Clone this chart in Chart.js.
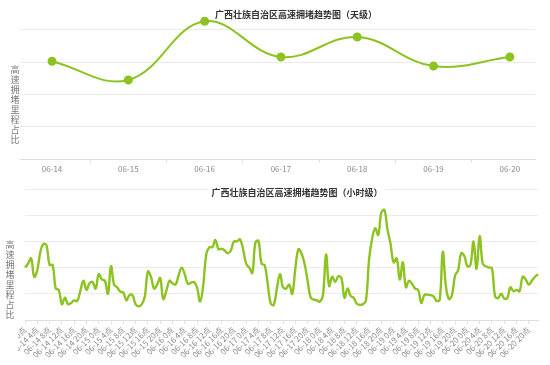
<!DOCTYPE html>
<html>
<head>
<meta charset="utf-8">
<script src="https://cdn.jsdelivr.net/npm/chart.js@4.4.1/dist/chart.umd.min.js"></script>
<style>
  body { margin: 0; background: #fff; }
  canvas { position: absolute; left: 0; }
  #day-chart { top: 0; }
  #hour-chart { top: 182px; }
</style>
</head>
<body>
<canvas id="day-chart" width="550" height="182"></canvas>
<canvas id="hour-chart" width="550" height="183"></canvas>
<script>
const days = ['06-14', '06-15', '06-16', '06-17', '06-18', '06-19', '06-20']
const daily_values = [3.03, 2.45, 4.27, 3.16, 3.78, 2.88, 3.16]

// hourly values, one array per day (0点 .. 23点)
const hours_0614 = [2.0, 2.15, 2.35, 1.65, 1.9, 2.6, 2.9, 2.85, 2.1, 2.1, 1.2, 1.15, 0.6, 0.85, 0.6, 0.65, 0.75, 0.72, 1.1, 1.5, 1.15, 1.4, 1.45, 1.2]
const hours_0615 = [1.75, 1.55, 1.5, 1.0, 2.05, 1.35, 1.25, 1.08, 1.05, 0.75, 0.95, 0.95, 0.6, 0.52, 0.6, 0.9, 1.85, 1.65, 1.2, 1.35, 1.6, 0.8, 1.1, 1.5]
const hours_0616 = [1.4, 1.35, 1.7, 2.0, 1.75, 1.38, 1.42, 1.45, 1.25, 0.7, 1.3, 2.5, 2.78, 2.78, 3.05, 2.7, 2.72, 2.65, 2.55, 2.65, 3.0, 3.0, 3.08, 2.7]
const hours_0617 = [2.15, 2.0, 1.8, 2.95, 3.02, 2.15, 2.1, 1.4, 0.62, 0.58, 1.2, 1.75, 1.25, 1.2, 1.35, 1.0, 1.95, 2.7, 2.55, 2.15, 1.5, 0.85, 0.78, 0.75]
const hours_0618 = [0.7, 0.95, 2.5, 1.3, 1.65, 1.45, 1.67, 1.6, 0.85, 1.2, 0.92, 0.85, 0.62, 0.58, 0.6, 0.75, 2.3, 3.1, 3.5, 3.25, 4.1, 4.2, 3.45, 2.9]
const hours_0619 = [2.2, 2.35, 1.55, 2.2, 1.25, 1.5, 1.38, 1.2, 1.15, 0.65, 0.95, 0.97, 0.95, 0.9, 0.73, 0.77, 2.6, 1.3, 0.8, 0.95, 1.7, 1.9, 2.55, 2.45]
const hours_0620 = [2.05, 2.1, 3.0, 1.95, 3.2, 2.15, 2.05, 2.0, 1.98, 0.92, 0.83, 1.0, 0.82, 0.83, 1.25, 1.1, 1.15, 1.1, 1.65, 1.55, 1.35, 1.5, 1.65, 1.75]

const day_grid = [0, 1, 2, 3, 4]
const hour_grid = [0, 1, 2, 3, 4, 5]

const title_day = '广西壮族自治区高速拥堵趋势图（天级）'
const title_hour = '广西壮族自治区高速拥堵趋势图（小时级）'
const axis_name = '高速拥堵里程占比'

const green = '#8cc320'
const font_family = '"Noto Sans CJK SC", "Noto Sans", sans-serif'

const hourly_values = [].concat(hours_0614, hours_0615, hours_0616, hours_0617, hours_0618, hours_0619, hours_0620)
const hour_labels = []
days.forEach((d) => {
    for (let h = 0; h < 24; h++) hour_labels.push(d + ' ' + h + '点')
})

// title with white box, stacked axis name, optional left clip of the labels
const textPlugin = {
    id: 'sideText',
    beforeDraw(chart, args, opts) {
        const ctx = chart.ctx
        ctx.save()
        ctx.beginPath()
        ctx.rect(opts.clipX || 0, 0, chart.width, chart.height)
        ctx.clip()
    },
    beforeDatasetsDraw(chart, args, opts) {
        const ctx = chart.ctx
        ctx.save()
        ctx.font = 'bold 9px ' + font_family
        ctx.textAlign = 'center'
        ctx.textBaseline = 'middle'
        const w = ctx.measureText(opts.title).width
        ctx.fillStyle = '#fff'
        ctx.fillRect(opts.titleX - w / 2 - 3, opts.titleY - 6, w + 6, 12)
        ctx.fillStyle = '#333'
        ctx.fillText(opts.title, opts.titleX, opts.titleY)
        ctx.restore()
    },
    afterDraw(chart, args, opts) {
        const ctx = chart.ctx
        ctx.restore()
        ctx.save()
        ctx.font = '9px ' + font_family
        ctx.textAlign = 'center'
        ctx.textBaseline = 'middle'
        ctx.fillStyle = '#777'
        Array.from(opts.name).forEach((ch, i) => {
            ctx.fillText(ch, opts.nameX, opts.nameY + i * 9.9)
        })
        ctx.restore()
    }
}

const dayChart = new Chart(document.getElementById('day-chart'), {
    type: 'line',
    data: {
        datasets: [{
            data: daily_values.map((v, i) => ({ x: i, y: v })),
            borderColor: green,
            backgroundColor: green,
            borderWidth: 2,
            pointRadius: 3.5,
            pointHoverRadius: 3.5,
            tension: 0.4,
            fill: false
        }]
    },
    options: {
        responsive: false,
        animation: false,
        clip: false,
        layout: { padding: { left: 20, right: 15, top: 18, bottom: 0 } },
        plugins: {
            legend: { display: false },
            tooltip: { enabled: false },
            sideText: { title: title_day, titleX: 296, titleY: 15, name: axis_name, nameX: 15, nameY: 70 }
        },
        scales: {
            x: {
                type: 'linear',
                min: -0.42,
                max: 6.33,
                afterBuildTicks: (s) => { s.ticks = days.map((d, i) => ({ value: i })) },
                afterFit: (s) => { s.height = 23 },
                ticks: {
                    callback: (v) => days[v],
                    color: '#8a8a8a',
                    font: { size: 8, family: font_family },
                    padding: 1,
                    maxRotation: 0,
                    autoSkip: false
                },
                grid: { offset: true, drawOnChartArea: false, tickLength: 4, color: '#e2e2e2' },
                border: { color: '#dedede' }
            },
            y: {
                min: 0,
                max: 4.37,
                afterBuildTicks: (s) => { s.ticks = day_grid.map((v) => ({ value: v })) },
                ticks: { display: false },
                grid: { color: '#ebebeb', drawTicks: false },
                border: { display: false }
            }
        }
    },
    plugins: [textPlugin]
})

const hourChart = new Chart(document.getElementById('hour-chart'), {
    type: 'line',
    data: {
        labels: hour_labels,
        datasets: [{
            data: hourly_values,
            borderColor: green,
            borderWidth: 2.4,
            pointRadius: 0,
            tension: 0.4,
            fill: false
        }]
    },
    options: {
        responsive: false,
        animation: false,
        clip: false,
        layout: { padding: { left: 25, right: 12, top: 7, bottom: 0 } },
        plugins: {
            legend: { display: false },
            tooltip: { enabled: false },
            sideText: { title: title_hour, titleX: 297, titleY: 11, name: axis_name, nameX: 10, nameY: 63, clipX: 18 }
        },
        scales: {
            x: {
                afterFit: (s) => { s.height = 45; s.paddingLeft = 0; s.paddingRight = 0 },
                ticks: {
                    callback: function (v, i) { return i % 4 === 0 ? this.getLabelForValue(v) : null },
                    color: '#8a8a8a',
                    font: { size: 8, family: font_family },
                    padding: 1,
                    minRotation: 45,
                    maxRotation: 45,
                    autoSkip: false
                },
                grid: { drawOnChartArea: false, tickLength: 4, color: '#e2e2e2' },
                border: { color: '#dedede' }
            },
            y: {
                min: 0,
                max: 5,
                afterBuildTicks: (s) => { s.ticks = hour_grid.map((v) => ({ value: v })) },
                ticks: { display: false },
                grid: { color: '#ebebeb', drawTicks: false },
                border: { display: false }
            }
        }
    },
    plugins: [textPlugin]
})
</script>
</body>
</html>
